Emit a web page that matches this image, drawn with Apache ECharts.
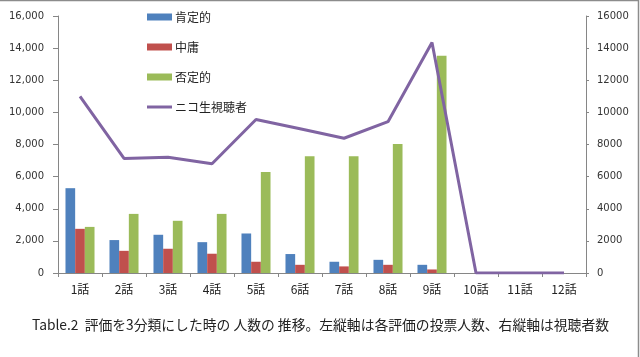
<!DOCTYPE html>
<html><head><meta charset="utf-8">
<script src="https://cdn.jsdelivr.net/npm/echarts@6/dist/echarts.min.js"></script>
<style>html,body{margin:0;padding:0;background:#fff}#c{width:640px;height:357px}</style>
</head><body><div id="c"></div>
<script>
const categories = ['1話','2話','3話','4話','5話','6話','7話','8話','9話','10話','11話','12話'];
const positive = [5280, 2050, 2380, 1920, 2460, 1180, 700, 820, 510, 0, 0, 0];
const neutral  = [2750, 1380, 1510, 1200, 700, 510, 410, 510, 220, 0, 0, 0];
const negative = [2870, 3680, 3250, 3680, 6290, 7270, 7270, 8030, 13520, 0, 0, 0];
const viewers  = [11000, 7130, 7200, 6800, 9560, 8980, 8390, 9420, 14350, 0, 0, 0];
const seriesNames = ['肯定的','中庸','否定的','ニコ生視聴者'];
const caption = 'Table.2  評価を3分類にした時の 人数の 推移。左縦軸は各評価の投票人数、右縦軸は視聴者数';

const chart = echarts.init(document.getElementById('c'));
const labelStyle = {fontFamily:'DejaVu Sans', fontSize:10, color:'#333'};
const axisLine = {show:true, lineStyle:{color:'#868686', width:1}};
chart.setOption({
  animation:false,
  backgroundColor:'#fff',
  grid:{left:58, right:54, top:16, bottom:84},
  title:{text:caption, left:27, top:313, textStyle:{fontFamily:'Noto Sans CJK JP', fontSize:13.8, fontWeight:'normal', color:'#222'}},
  legend:{
    orient:'vertical', left:142, top:6, itemGap:18, itemWidth:25, itemHeight:7,
    textStyle:{fontFamily:'Noto Sans CJK JP', fontSize:12, color:'#222', padding:[0,0,0,-2]},
    data:[
      {name:seriesNames[0], icon:'rect'},
      {name:seriesNames[1], icon:'rect'},
      {name:seriesNames[2], icon:'rect'},
      {name:seriesNames[3], icon:'path://M0,0H25V3H0Z'}
    ]
  },
  xAxis:{
    type:'category', data:categories, boundaryGap:true,
    axisLine:axisLine,
    axisTick:{show:true, length:4, alignWithLabel:false, lineStyle:{color:'#868686'}},
    axisLabel:{fontFamily:'Noto Sans CJK JP', fontSize:12, color:'#222', margin:10, interval:0}
  },
  yAxis:[
    {type:'value', min:0, max:16000, interval:2000, position:'left',
     axisLine:axisLine, axisTick:{show:true, length:5, lineStyle:{color:'#868686'}},
     splitLine:{show:false},
     axisLabel:Object.assign({margin:14, formatter:v=>v.toLocaleString('en-US')}, labelStyle)},
    {type:'value', min:0, max:16000, interval:2000, position:'right',
     axisLine:axisLine, axisTick:{show:true, length:3, lineStyle:{color:'#868686'}},
     splitLine:{show:false},
     axisLabel:Object.assign({margin:11, formatter:v=>String(v)}, labelStyle)}
  ],
  series:[
    {name:seriesNames[0], type:'bar', data:positive, barGap:'0%', barCategoryGap:'34%',
     itemStyle:{color:'#4F81BD'}},
    {name:seriesNames[1], type:'bar', data:neutral, barGap:'0%', barCategoryGap:'34%',
     itemStyle:{color:'#C0504D'}},
    {name:seriesNames[2], type:'bar', data:negative, barGap:'0%', barCategoryGap:'34%',
     itemStyle:{color:'#9BBB59'}},
    {name:seriesNames[3], type:'line', yAxisIndex:1, data:viewers, symbol:'none',
     lineStyle:{color:'#8064A2', width:3}, itemStyle:{color:'#8064A2'}}
  ],
  graphic:[
    {type:'polyline', silent:true, shape:{points:[[0,0.5],[638.5,0.5],[638.5,357]]},
     style:{stroke:'#8c8c8c', lineWidth:1.5, fill:null}}
  ]
});
</script></body></html>
